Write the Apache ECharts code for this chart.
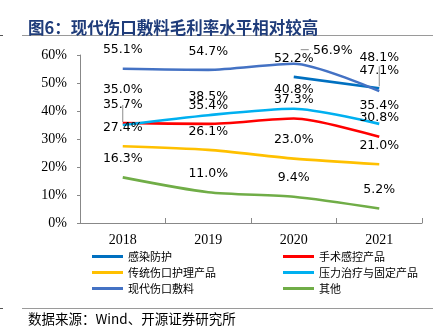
<!DOCTYPE html>
<html>
<head>
<meta charset="utf-8">
<script src="https://cdn.jsdelivr.net/npm/echarts@6/dist/echarts.min.js"></script>
<style>
  html, body { margin: 0; padding: 0; background: #fff; }
  #chart { width: 443px; height: 326px; }
</style>
</head>
<body>
<div id="chart"></div>
<script>
// Gross margin by product line, 2018–2021 (%)
const years = ['2018', '2019', '2020', '2021'];
const infectionProtection = [null, null, 52.2, 48.1];   // 感染防护
const surgicalControl     = [35.7, 35.4, 37.3, 30.8];   // 手术感控产品
const traditionalCare     = [27.4, 26.1, 23.0, 21.0];   // 传统伤口护理产品
const pressureTherapy     = [35.0, 38.5, 40.8, 35.4];   // 压力治疗与固定产品
const modernDressing      = [55.1, 54.7, 56.9, 47.1];   // 现代伤口敷料
const others              = [16.3, 11.0, 9.4, 5.2];     // 其他
const yTicks = [0, 10, 20, 30, 40, 50, 60];

const chart = echarts.init(document.getElementById('chart'));

const labelFont = { fontFamily: 'DejaVu Sans', fontSize: 12.5, color: '#000' };

// per-point label nudges (pixels) for crowded spots
const tweaks = {
  '压力治疗与固定产品': { 0: { dx: 0, dy: -17 } },
  '感染防护': { 3: { dx: 0, dy: -12 } },
  '现代伤口敷料': { 2: { dx: 39, dy: 6 }, 3: { dx: 0, dy: -2 } }
};

// leader lines from a point towards its nudged label (pixel offsets from the point)
const leaders = [
  { values: pressureTherapy, index: 0, path: [[0, -3], [0, -20]] },
  { values: infectionProtection, index: 3, path: [[0, -2], [0, -22]] },
  { values: modernDressing, index: 2, path: [[7, -14], [15, -14]] }
];

function makeSeries(name, values, color) {
  const t = tweaks[name] || {};
  return {
    name: name,
    type: 'line',
    smooth: 0.25,
    symbol: 'circle',
    symbolSize: 0.1,
    showSymbol: true,
    connectNulls: false,
    lineStyle: { color: color, width: 2.6 },
    itemStyle: { color: color },
    data: values,
    label: Object.assign({
      show: true,
      position: 'top',
      distance: 12,
      formatter: p => p.value == null ? '' : Number(p.value).toFixed(1) + '%'
    }, labelFont),
    labelLayout: function (params) {
      const adj = t[params.dataIndex];
      if (!adj) return {};
      return { dx: adj.dx, dy: adj.dy };
    },
    z: 2
  };
}

const leaderSeries = {
  name: 'leaders',
  type: 'custom',
  silent: true,
  z: 3,
  data: leaders.map((l, k) => [l.index, l.values[l.index], k]),
  renderItem: function (params, api) {
    const p = api.coord([api.value(0), api.value(1)]);
    const l = leaders[api.value(2)];
    return {
      type: 'polyline',
      shape: { points: l.path.map(d => [p[0] + d[0], p[1] + d[1]]) },
      style: { stroke: '#8c8c8c', lineWidth: 1, fill: null }
    };
  }
};

const option = {
  animation: false,
  backgroundColor: '#fff',
  title: [{
    text: '图6：现代伤口敷料毛利率水平相对较高',
    left: 23,
    top: 14,
    textStyle: {
      fontFamily: 'Noto Sans CJK SC',
      fontWeight: 'bold',
      fontSize: 16.5,
      color: '#1f3c7a'
    }
  }, {
    text: '数据来源：Wind、开源证券研究所',
    left: 23,
    top: 307,
    textStyle: {
      fontFamily: 'Noto Sans CJK SC, Liberation Serif',
      fontWeight: 'normal',
      fontSize: 13.5,
      color: '#000'
    }
  }],
  graphic: [
    { type: 'line', shape: { x1: 22, y1: 35.5, x2: 433, y2: 35.5 }, style: { stroke: '#9a9a9a', lineWidth: 1 } },
    { type: 'line', shape: { x1: 22, y1: 308.5, x2: 433, y2: 308.5 }, style: { stroke: '#9a9a9a', lineWidth: 1 } },
    { type: 'line', shape: { x1: 0, y1: 35.5, x2: 3, y2: 35.5 }, style: { stroke: '#555', lineWidth: 1 } },
    { type: 'line', shape: { x1: 0, y1: 308.5, x2: 3, y2: 308.5 }, style: { stroke: '#555', lineWidth: 1 } }
  ],
  legend: [{
    orient: 'vertical',
    left: 87,
    top: 246,
    itemWidth: 31,
    itemHeight: 3,
    itemGap: 5,
    icon: 'rect',
    textStyle: { fontFamily: 'Noto Sans CJK SC', fontSize: 11, color: '#000' },
    data: ['感染防护', '传统伤口护理产品', '现代伤口敷料']
  }, {
    orient: 'vertical',
    left: 278,
    top: 246,
    itemWidth: 31,
    itemHeight: 3,
    itemGap: 5,
    icon: 'rect',
    textStyle: { fontFamily: 'Noto Sans CJK SC', fontSize: 11, color: '#000' },
    data: ['手术感控产品', '压力治疗与固定产品', '其他']
  }],
  grid: { left: 80, right: 21, top: 55, bottom: 103, containLabel: false },
  xAxis: {
    type: 'category',
    data: years,
    boundaryGap: true,
    axisLine: { lineStyle: { color: '#888', width: 1 } },
    axisTick: { show: true, inside: true, length: 5, lineStyle: { color: '#888' } },
    axisLabel: { fontFamily: 'Liberation Serif', fontSize: 14, color: '#000', margin: 10 },
    splitLine: { show: false }
  },
  yAxis: {
    type: 'value',
    min: yTicks[0],
    max: yTicks[yTicks.length - 1],
    interval: 10,
    axisLine: { show: true, lineStyle: { color: '#888', width: 1 } },
    axisTick: { show: true, length: 3, lineStyle: { color: '#888' } },
    axisLabel: { fontFamily: 'Liberation Serif', fontSize: 14, color: '#000', margin: 13, formatter: '{value}%' },
    splitLine: { show: false }
  },
  series: [
    makeSeries('感染防护', infectionProtection, '#0070C0'),
    makeSeries('手术感控产品', surgicalControl, '#FF0000'),
    makeSeries('传统伤口护理产品', traditionalCare, '#FFC000'),
    makeSeries('压力治疗与固定产品', pressureTherapy, '#00B0F0'),
    makeSeries('现代伤口敷料', modernDressing, '#4472C4'),
    makeSeries('其他', others, '#70AD47'),
    leaderSeries
  ]
};

chart.setOption(option);
</script>
</body>
</html>
